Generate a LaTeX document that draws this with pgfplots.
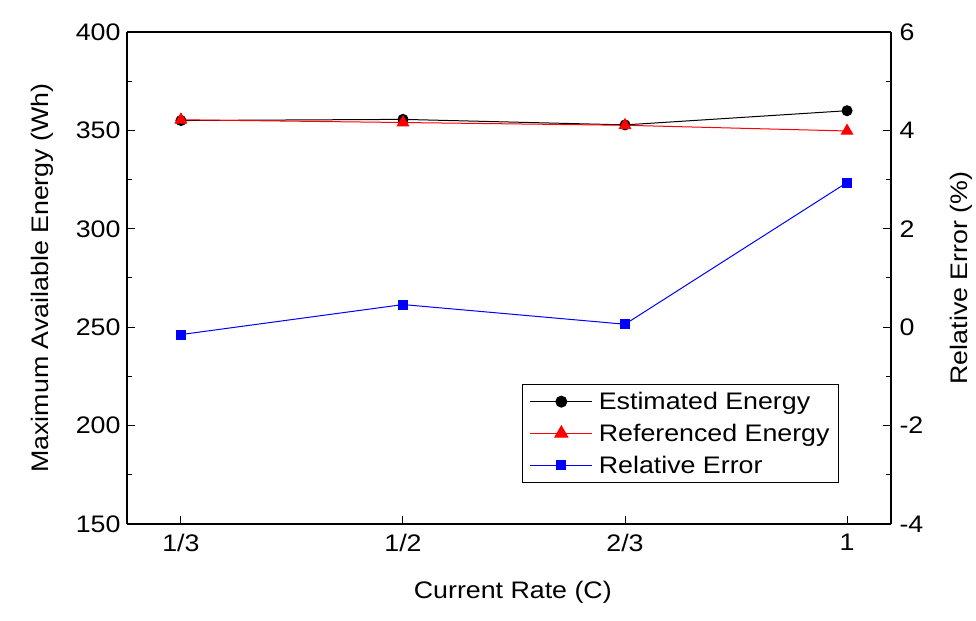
\documentclass[border=0pt]{standalone}
\usepackage{fontspec}
\setmainfont{Liberation Sans}[FakeStretch=1.12]
\usepackage{pgfplots}
\usepackage{pgfplotstable}
\pgfplotsset{compat=1.18}

% Energy (Wh) at the four discharge rates: 1/3, 1/2, 2/3, 1 C
\pgfplotstableread{
x est ref
0 355.0 355.4
1 355.6 354.0
2 352.8 352.6
3 360.0 349.7
}\energy

% Relative error (%) between estimated and referenced energy
\pgfplotstableread{
x err
0 -0.15
1 0.46
2 0.06
3 2.94
}\relerr

\pgfplotsset{
  base/.style={
    scale only axis, width=764bp, height=492bp,
    at={(127bp,97bp)}, anchor=south west,
    xmin=-0.243, xmax=3.198,
    xtick={0,1,2,3}, xticklabels={1/3,1/2,2/3,1},
    tick align=inside,
    major tick length=8bp, minor tick length=5bp,
    every tick/.style={black, line width=1bp},
    axis line style={line width=1.2bp},
    font=\fontsize{24}{28}\selectfont,
    /pgf/number format/assume math mode=true,
    clip=false,
  },
}

\begin{document}
\begin{tikzpicture}
\useasboundingbox (0,0) rectangle (976bp,621bp);

\begin{axis}[base,
  axis y line*=left,
  xtick pos=bottom,
  ymin=150, ymax=400, ytick={150,200,...,400},
  minor y tick num=1,
  xticklabel style={yshift=-7bp},
  yticklabel style={xshift=-3bp},
  xlabel={Current Rate (C)},
  ylabel={Maximum Available Energy (Wh)},
  xlabel style={at={(axis description cs:0.505,-0.138)}, anchor=center},
  ylabel style={at={(axis description cs:-0.111,0.5)}, anchor=center},
]
  \addplot[black, line width=1bp, mark=*, mark size=5bp]
    table[x=x, y=est] {\energy};
  \addplot[red, line width=1bp, mark=triangle*, mark size=6.5bp]
    table[x=x, y=ref] {\energy};
\end{axis}

\begin{axis}[base,
  axis y line*=right,
  axis x line=none,
  ymin=-4, ymax=6, ytick={-4,-2,...,6},
  minor y tick num=1,
  yticklabel style={xshift=5bp},
  ylabel={Relative Error (\%)},
  ylabel style={at={(axis description cs:1.092,0.5)}, anchor=center, rotate=0},
  legend style={at={(0.932,0.083)}, anchor=south east,
    draw=black, line width=1bp, inner xsep=7bp, inner ysep=6bp,
    row sep=9bp, column sep=4bp,
    font=\fontsize{24}{28}\selectfont},
  legend cell align=left,
  legend image code/.code={%
    \draw[mark repeat=2, mark phase=2, #1]
      plot coordinates {(0bp,0bp) (31bp,0bp) (62bp,0bp)};},
]
  \addlegendimage{black, line width=1bp, mark=*, mark size=5.5bp}
  \addlegendentry{Estimated Energy}
  \addlegendimage{red, line width=1bp, mark=triangle*, mark size=7.5bp}
  \addlegendentry{Referenced Energy}
  \addplot[blue, line width=1bp, mark=square*, mark size=4.5bp]
    table[x=x, y=err] {\relerr};
  \addlegendentry{Relative Error}
\end{axis}
\end{tikzpicture}
\end{document}
